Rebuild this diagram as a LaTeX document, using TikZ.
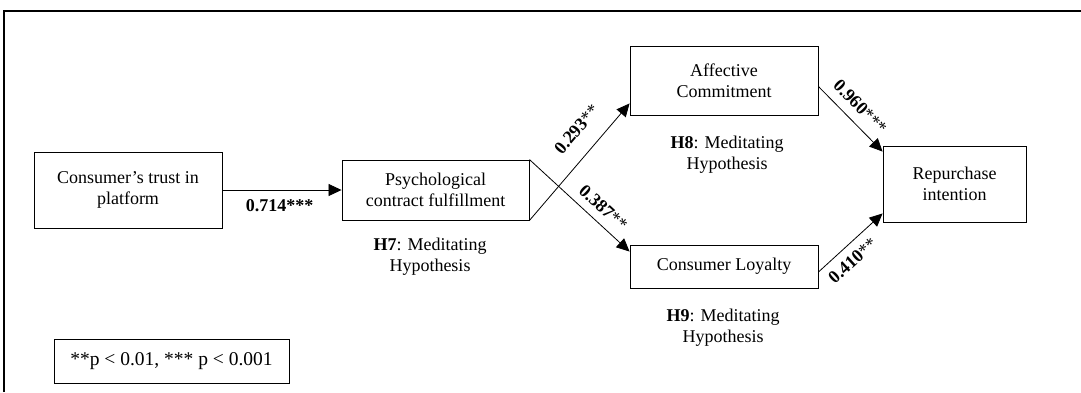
\documentclass[tikz,border=0pt]{standalone}
\usepackage{fontspec}
\setmainfont{Liberation Serif}
\usetikzlibrary{arrows.meta,calc}
\begin{document}
\begin{tikzpicture}[x=1pt,y=-1pt,
  box/.style={draw=black,line width=0.9pt,align=center,inner sep=0pt,font=\fontsize{18}{21}\selectfont},
  note/.style={align=center,inner sep=0pt,font=\fontsize{18}{21}\selectfont},
  lbl/.style={inner sep=0pt,font=\fontsize{18}{21}\selectfont},
  conn/.style={line width=0.8pt,-{Triangle[length=13pt,width=12pt]}},
  plain/.style={line width=0.8pt}]
\useasboundingbox (0,0) rectangle (1081,392);
\draw[line width=1.6pt] (4,392) -- (4,11) -- (1081,11);
\node[box,minimum width=188pt,minimum height=76pt] (trust) at (128,190) {Consumer’s trust in\\platform};
\node[box,minimum width=187pt,minimum height=60pt] (psych) at (435.5,190) {Psychological\\contract fulfillment};
\node[box,minimum width=188pt,minimum height=69pt] (aff) at (724,80.5) {Affective\\Commitment};
\node[box,minimum width=188pt,minimum height=43pt] (loy) at (724,266.5) {Consumer Loyalty};
\node[box,minimum width=143pt,minimum height=76pt] (rep) at (954.5,184) {Repurchase\\intention};
\node[box,minimum width=235pt,minimum height=44pt,font=\fontsize{19.5}{22}\selectfont] (leg) at (171.5,361) {**p < 0.01, *** p < 0.001};
\node[note] (h7) at (430,257) {\textbf{H7}: Meditating\\Hypothesis};
\node[note] (h8) at (727,155) {\textbf{H8}: Meditating\\Hypothesis};
\node[note] (h9) at (723,328) {\textbf{H9}: Meditating\\Hypothesis};
\coordinate (affin) at ($(aff.south west)+(0,-12)$);
\coordinate (loyin) at ($(loy.north west)+(0,7)$);
\coordinate (affout) at ($(aff.east)+(0,6)$);
\coordinate (loyout) at ($(loy.east)+(0,5.5)$);
\coordinate (repin1) at ($(rep.north west)+(0,6)$);
\coordinate (repin2) at ($(rep.south west)+(0,-9)$);
\draw[conn] (trust.east) -- node[lbl,pos=0.48,below=9pt] {\textbf{0.714***}} (psych.west);
\draw[conn] (psych.south east) -- node[lbl,pos=0.65,sloped,above=17pt] {\textbf{0.293}**} (affin);
\draw[conn] (psych.north east) -- node[lbl,pos=0.64,sloped,above=8pt] {\textbf{0.387}**} (loyin);
\draw[conn] (affout) -- node[lbl,pos=0.48,sloped,above=9pt] {\textbf{0.960}***} (repin1);
\draw[conn] (loyout) -- node[lbl,pos=0.38,sloped,below=8pt] {\textbf{0.410}**} (repin2);
\end{tikzpicture}
\end{document}
